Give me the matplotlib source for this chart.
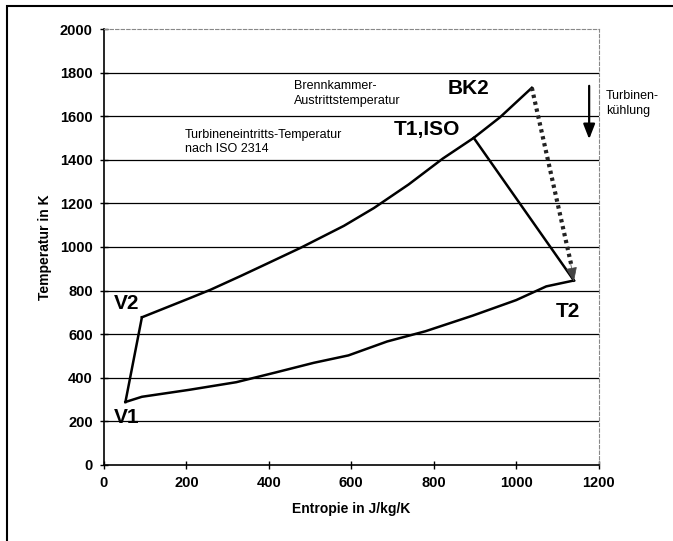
import matplotlib
matplotlib.use('Agg')
import matplotlib.pyplot as plt
from matplotlib.patches import Rectangle

plt.rcParams['font.family'] = ['Liberation Sans', 'DejaVu Sans']

# cycle points (entropy in J/kg/K, temperature in K)
v1 = (52, 288)
v2 = (92, 677)
t1iso = (897, 1501)
bk2 = (1038, 1731)
t2 = (1140, 846)

# compression V1 -> V2, heating V2 -> BK2
upper_s = [92, 207, 259, 332, 394, 478, 582, 655, 739, 822, 897, 961, 1038]
upper_T = [677, 764, 804, 867, 922, 997, 1097, 1179, 1287, 1406, 1501, 1596, 1731]
# heat rejection V1 -> T2
lower_s = [52, 92, 207, 321, 415, 509, 593, 687, 780, 895, 1000, 1073, 1140]
lower_T = [288, 312, 344, 379, 423, 468, 502, 566, 613, 685, 756, 819, 846]

yticks = list(range(0, 2001, 200))
xticks = list(range(0, 1201, 200))

fig = plt.figure(figsize=(6.73, 5.41), dpi=100)
ax = fig.add_axes([0.1545, 0.141, 0.735, 0.805])

ax.set_xlim(0, 1200)
ax.set_ylim(0, 2000)
ax.set_xticks(xticks)
ax.set_yticks(yticks)
for y in yticks[1:-1]:
    ax.axhline(y, color='black', lw=0.9, zorder=1)

lw = 1.8
ax.plot(upper_s, upper_T, color='black', lw=lw, zorder=3)
ax.plot(lower_s, lower_T, color='black', lw=lw, zorder=3)
ax.plot([v1[0], v2[0]], [v1[1], v2[1]], color='black', lw=lw, zorder=3)
ax.plot([t1iso[0], t2[0]], [t1iso[1], t2[1]], color='black', lw=lw, zorder=3)

# dotted expansion line BK2 -> T2 with arrow head
ax.plot([bk2[0], t2[0] - 5], [bk2[1], t2[1] + 60], color='#222222', lw=3,
        linestyle=(0, (0.8, 0.9)), zorder=4)
ax.annotate('', xy=(t2[0], t2[1] - 5), xytext=(t2[0] - 8, t2[1] + 80),
            arrowprops=dict(arrowstyle='-|>,head_length=0.9,head_width=0.35',
                            color='#444444', lw=0.5, shrinkA=0, shrinkB=0),
            zorder=4)

# turbine cooling arrow
ax.annotate('', xy=(1177, 1495), xytext=(1177, 1740),
            arrowprops=dict(arrowstyle='-|>,head_length=0.9,head_width=0.35',
                            color='black', lw=1.6, shrinkA=0, shrinkB=0),
            annotation_clip=False)
ax.text(1218, 1660, 'Turbinen-\nkühlung', fontsize=9, va='center', ha='left',
        linespacing=1.3, clip_on=False)

big = dict(fontsize=15, fontweight='bold', ha='center', va='center')
ax.text(885, 1727, 'BK2', **big)
ax.text(783, 1541, 'T1,ISO', **big)
ax.text(55, 740, 'V2', **big)
ax.text(55, 215, 'V1', **big)
ax.text(1125, 705, 'T2', **big)

ax.text(460, 1705, 'Brennkammer-\nAustrittstemperatur', fontsize=9,
        ha='left', va='center', linespacing=1.3)
ax.text(197, 1482, 'Turbineneintritts-Temperatur\nnach ISO 2314', fontsize=9,
        ha='left', va='center', linespacing=1.3)

ax.set_xlabel('Entropie in J/kg/K', fontsize=10, fontweight='bold', labelpad=9)
ax.set_ylabel('Temperatur in K', fontsize=10, fontweight='bold', labelpad=6)

for lab in ax.get_xticklabels() + ax.get_yticklabels():
    lab.set_fontweight('bold')
    lab.set_fontsize(10.5)
ax.tick_params(direction='inout', length=6, width=1, pad=5)

ax.spines['left'].set_linewidth(1.2)
ax.spines['bottom'].set_linewidth(1.2)
for side in ('top', 'right'):
    ax.spines[side].set_color('#888888')
    ax.spines[side].set_linestyle((0, (3, 2)))
    ax.spines[side].set_linewidth(0.8)

fig.patches.append(Rectangle((0.011, -0.01), 1.1, 0.999, transform=fig.transFigure,
                             fill=False, edgecolor='black', lw=1.5))

fig.savefig('out.png', dpi=100)
